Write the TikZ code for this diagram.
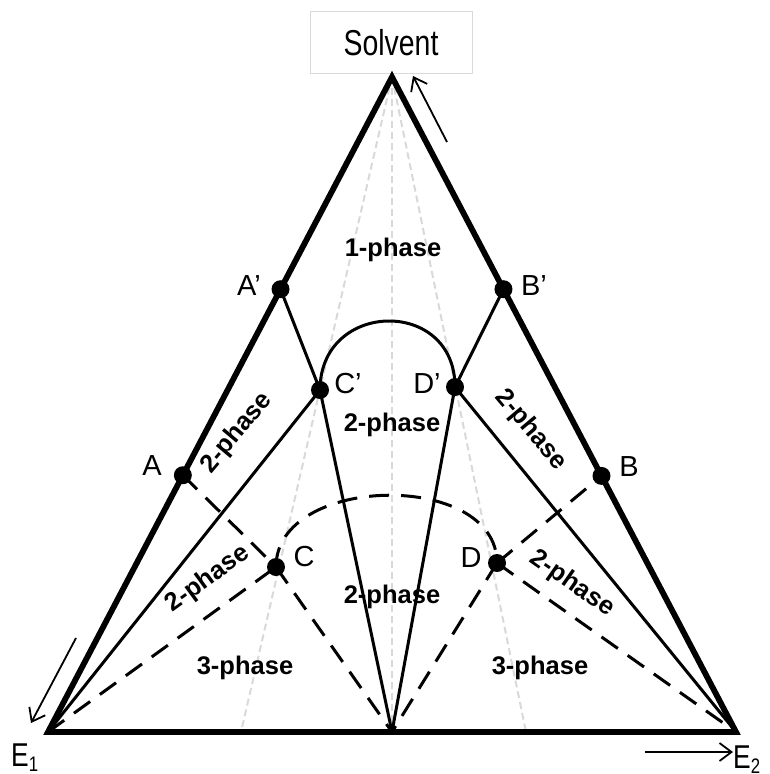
\documentclass[tikz,border=0pt]{standalone}
\usepackage{fontspec}
\setmainfont{Liberation Sans}
\usetikzlibrary{arrows.meta,calc}
\begin{document}
\begin{tikzpicture}[x=1pt,y=-1pt,
  edge/.style={line width=5.8pt, line join=miter},
  tie/.style={line width=3pt},
  dashtie/.style={line width=3pt, dash pattern=on 20pt off 12pt},
  guide/.style={line width=2pt, draw=black!15, dash pattern=on 7pt off 4pt},
  dot/.style={circle, fill=black, inner sep=0pt, minimum size=18pt},
  ptlabel/.style={font=\fontsize{29}{29}\selectfont},
  phase/.style={font=\bfseries\fontsize{25.5}{25.5}\selectfont, inner sep=0pt},
  elabel/.style={anchor=base west, inner sep=0pt, font=\fontsize{33}{33}\selectfont},
  arr/.style={line width=1.8pt, -{Straight Barb[length=12pt,width=18pt]}}
]
\useasboundingbox (0,0) rectangle (770,774);
% vertices
\coordinate (S) at (392,77);
\coordinate (E1) at (48,732);
\coordinate (E2) at (736,732);
\coordinate (M) at (392,732);
\coordinate (G1) at (241,732);
\coordinate (G2) at (526,732);
% points
\coordinate (A) at ($(E1)!0.392!(S)$);
\coordinate (Ap) at ($(E1)!0.676!(S)$);
\coordinate (B) at ($(E2)!0.391!(S)$);
\coordinate (Bp) at ($(E2)!0.676!(S)$);
\coordinate (Cp) at (320,390);
\coordinate (Dp) at (455,387);
\coordinate (C) at (276,567);
\coordinate (D) at (497,563);
% solvent box
\draw[draw=black!15, line width=0.8pt] (310,11) rectangle (472,73);
\node[font=\fontsize{36}{36}\selectfont] (solv) at (391,43) {\scalebox{0.79}[1]{Solvent}};
% guide lines
\draw[guide] (S) -- (G1);
\draw[guide] (S) -- (M);
\draw[guide] (S) -- (G2);
% solid tie lines
\draw[tie] (Ap) -- (Cp);
\draw[tie] (Cp) -- (E1);
\draw[tie] (Cp) -- (M);
\draw[tie] (Dp) -- (M);
\draw[tie] (Dp) -- (Bp);
\draw[tie] (Dp) -- (E2);
\draw[tie] (Cp) .. controls +(0,-90) and +(0,-90) .. (Dp);
% dashed tie lines
\draw[dashtie] (A) -- (C);
\draw[dashtie] (E1) -- (C);
\draw[dashtie] (C) -- (M);
\draw[dashtie] (D) -- (M);
\draw[dashtie] (D) -- (E2);
\draw[dashtie] (D) -- (B);
\draw[dashtie] (C) .. controls +(0,-93) and +(0,-93) .. (D);
% triangle
\draw[edge] (E1) -- (S) -- (E2) -- cycle;
% dots
\node[dot] (dA) at (A) {};
\node[dot] (dAp) at (Ap) {};
\node[dot] (dB) at (B) {};
\node[dot] (dBp) at (Bp) {};
\node[dot] (dC) at (C) {};
\node[dot] (dCp) at (Cp) {};
\node[dot] (dD) at (D) {};
\node[dot] (dDp) at (Dp) {};
% point labels
\node[ptlabel] (lAp) at (249,286) {A’};
\node[ptlabel] (lBp) at (534,286) {B’};
\node[ptlabel] (lCp) at (348,384) {C’};
\node[ptlabel] (lDp) at (427,384) {D’};
\node[ptlabel] (lA) at (152,466) {A};
\node[ptlabel] (lB) at (629,467) {B};
\node[ptlabel] (lC) at (304,557) {C};
\node[ptlabel] (lD) at (471,558) {D};
% phase labels
\node[phase] (p1) at (393,250) {1-phase};
\node[phase] (p2) at (392,425) {2-phase};
\node[phase] (p3) at (392,597) {2-phase};
\node[phase] (p4) at (245,668) {3-phase};
\node[phase] (p5) at (540,668) {3-phase};
\node[phase, rotate=50] (p6) at (237,433) {2-phase};
\node[phase, rotate=-50] (p7) at (531,430) {2-phase};
\node[phase, rotate=36] (p8) at (208,579) {2-phase};
\node[phase, rotate=-35] (p9) at (572,584) {2-phase};
% vertex labels
\node[elabel] (lE1) at (11,766) {\scalebox{0.8}[1]{E\raisebox{-5pt}{\fontsize{21}{21}\selectfont 1}}};
\node[elabel] (lE2) at (733,768) {\scalebox{0.8}[1]{E\raisebox{-5pt}{\fontsize{21}{21}\selectfont 2}}};
% arrows
\coordinate (a1s) at (447,142);
\coordinate (a1e) at (413,76);
\coordinate (a2s) at (76,638);
\coordinate (a2e) at (31,723);
\coordinate (a3s) at (645,752);
\coordinate (a3e) at (733,752);
\draw[arr] (a1s) -- (a1e);
\draw[arr] (a2s) -- (a2e);
\draw[arr] (a3s) -- (a3e);
\end{tikzpicture}
\end{document}
